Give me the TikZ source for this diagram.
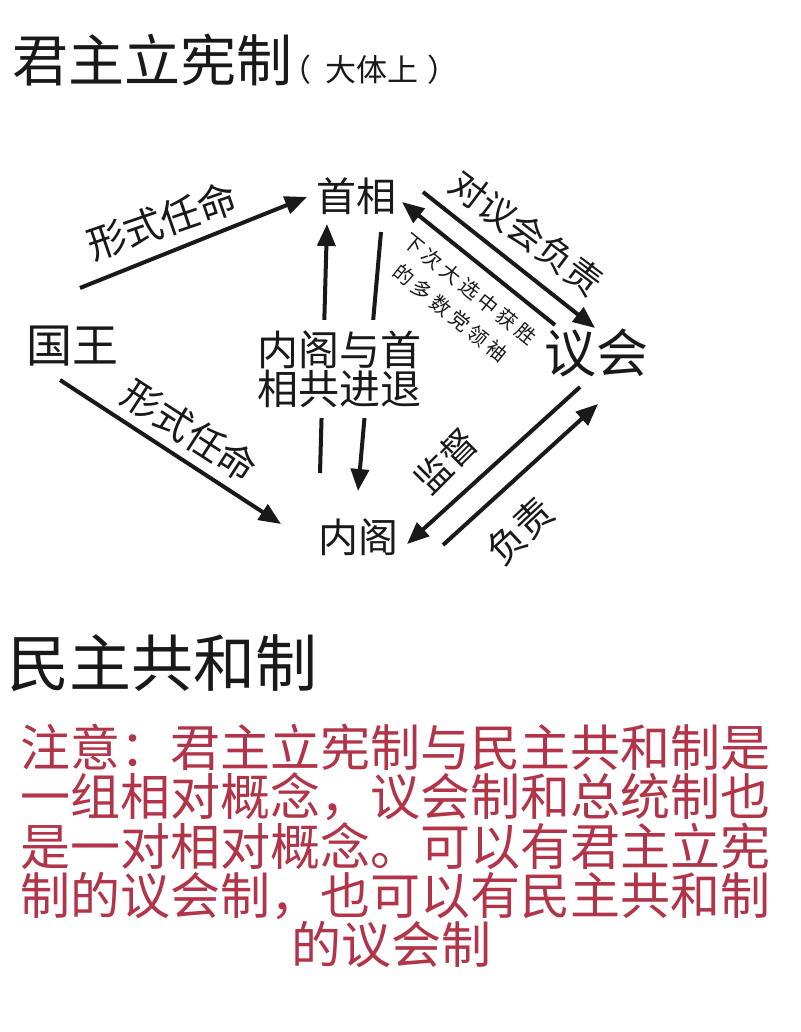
\documentclass[tikz,border=0pt]{standalone}
\usepackage{fontspec}
\setmainfont{Noto Sans CJK SC}
\usetikzlibrary{arrows.meta}
\definecolor{ink}{RGB}{25,25,25}
\definecolor{notered}{RGB}{178,52,72}
\newcommand{\fs}[1]{\fontsize{#1}{#1}\selectfont}
\newcommand{\lsp}{\kern4pt}
\begin{document}
\begin{tikzpicture}[x=1pt,y=-1pt,
  lbl/.style={inner sep=0pt, text=ink},
  note/.style={inner sep=0pt, text=notered, font=\fs{50}, anchor=base},
  arr/.style={line width=4pt, draw=ink, -{Triangle[length=22pt,width=18pt]}}]
\path[use as bounding box, fill=white] (0,0) rectangle (800,1032);

% titles
\node[lbl, font=\fs{56}, anchor=base west] (t1) at (12,82) {君主立宪制};
\node[lbl, font=\fs{31}, anchor=base west] (t1b) at (280,82) {（\kern14pt 大体上\kern9pt ）};
\node[lbl, font=\fs{62}, anchor=base west] (t2) at (7,686) {民主共和制};

% main nodes
\node[lbl, font=\fs{46}] (king) at (72,346) {国王};
\node[lbl, font=\fs{40}] (pm) at (356,196) {首相};
\node[lbl, font=\fs{52}] (parl) at (596,353) {议会};
\node[lbl, font=\fs{40}] (cab) at (358,537) {内阁};

% arrow end points
\coordinate (a1s) at (80,288);  \coordinate (a1e) at (307,197);
\coordinate (a2s) at (60,380);  \coordinate (a2e) at (281,524);
\coordinate (a3s) at (320,473); \coordinate (a3e) at (327,224);
\coordinate (a4s) at (381,232); \coordinate (a4e) at (358,491);
\coordinate (a5s) at (423,192); \coordinate (a5e) at (595,328);
\coordinate (a6s) at (555,325); \coordinate (a6e) at (402,202);
\coordinate (a7s) at (580,387); \coordinate (a7e) at (407,544);
\coordinate (a8s) at (443,545); \coordinate (a8e) at (598,404);

\draw[arr] (a1s) -- (a1e);
\draw[arr] (a2s) -- (a2e);
\draw[arr] (a3s) -- (a3e);
\draw[arr] (a4s) -- (a4e);
\draw[arr] (a5s) -- (a5e);
\draw[arr] (a6s) -- (a6e);
\draw[arr] (a7s) -- (a7e);
\draw[arr] (a8s) -- (a8e);

% middle text covering the vertical arrows
\node[lbl, font=\fontsize{41}{39}\selectfont, align=center, fill=white,
      inner xsep=2pt, inner ysep=10pt] (jt) at (339,369) {内阁与首\\相共进退};

% arrow labels
\node[lbl, font=\fs{39}, rotate=19] (l1) at (162,221) {形式任命};
\node[lbl, font=\fs{38}, rotate=-33] (l2) at (190,431) {形式任命};
\node[lbl, font=\fs{36}, rotate=-37] (l3) at (527,233) {对议会负责};
\node[lbl, font=\fontsize{20}{31}\selectfont, align=center, rotate=-39] (l4) at (460,301)
  {下\lsp 次\lsp 大\lsp 选\lsp 中\lsp 获\lsp 胜\\的\lsp 多\lsp 数\lsp 党\lsp 领\lsp 袖};
\node[lbl, font=\fs{36}, rotate=45] (l5) at (446,461) {监督};
\node[lbl, font=\fs{38}, rotate=43] (l6) at (520,531) {负责};

% note
\node[note] (n1) at (395,766) {注意：君主立宪制与民主共和制是};
\node[note] (n2) at (395,815) {一组相对概念，议会制和总统制也};
\node[note] (n3) at (395,865) {是一对相对概念。可以有君主立宪};
\node[note] (n4) at (395,914) {制的议会制，也可以有民主共和制};
\node[note] (n5) at (391,963) {的议会制};
\end{tikzpicture}
\end{document}
